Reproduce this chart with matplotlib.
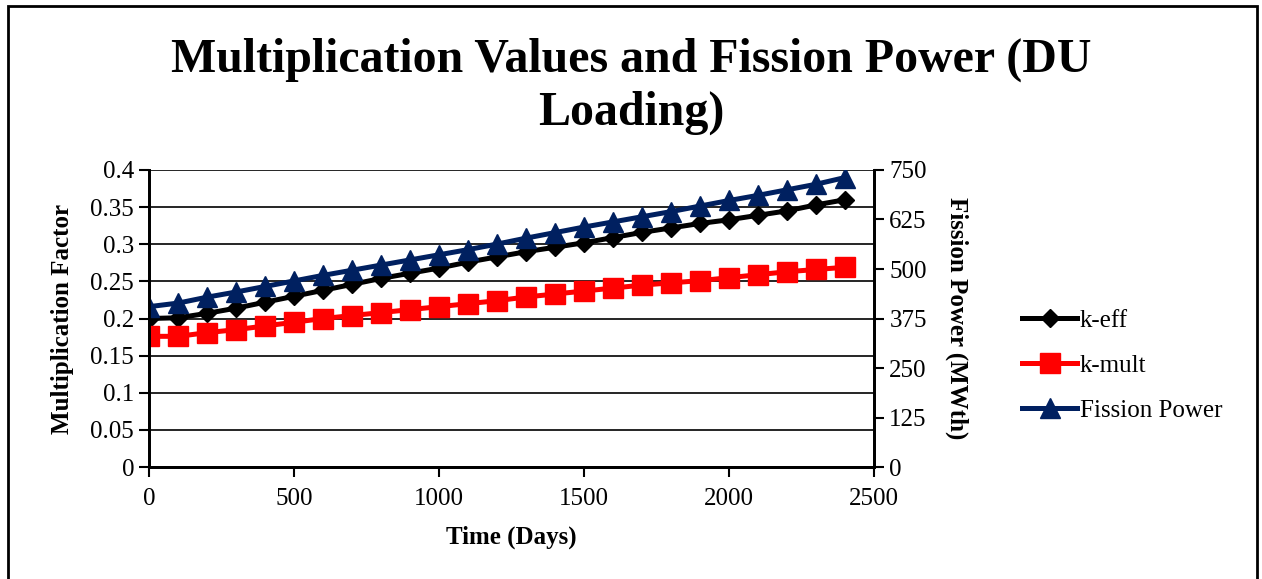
import matplotlib.pyplot as plt
from matplotlib.patches import Rectangle

plt.rcParams['font.family'] = ['Liberation Serif', 'DejaVu Serif']

# burnup steps (days) and the three tallies per step
days = [0, 100, 200, 300, 400, 500, 600, 700, 800, 900, 1000, 1100, 1200,
        1300, 1400, 1500, 1600, 1700, 1800, 1900, 2000, 2100, 2200, 2300, 2400]
k_eff = [0.200, 0.201, 0.207, 0.214, 0.222, 0.230, 0.238, 0.246, 0.254, 0.261,
         0.268, 0.276, 0.283, 0.290, 0.296, 0.302, 0.309, 0.316, 0.322, 0.328,
         0.333, 0.339, 0.345, 0.353, 0.360]
k_mult = [0.176, 0.176, 0.181, 0.185, 0.190, 0.195, 0.200, 0.204, 0.208, 0.212,
          0.216, 0.220, 0.224, 0.229, 0.233, 0.237, 0.241, 0.245, 0.248, 0.251,
          0.255, 0.259, 0.263, 0.266, 0.269]
fission_power = [405, 414, 429, 442, 456, 470, 484, 497, 510, 523, 536, 549, 563,
                 578, 592, 606, 619, 632, 645, 659, 673, 686, 700, 714, 731]

left_ticks = [0, 0.05, 0.1, 0.15, 0.2, 0.25, 0.3, 0.35, 0.4]
left_labels = ['0', '0.05', '0.1', '0.15', '0.2', '0.25', '0.3', '0.35', '0.4']
right_ticks = [0, 125, 250, 375, 500, 625, 750]
x_ticks = [0, 500, 1000, 1500, 2000, 2500]

navy = '#002060'
fs = 18

fig = plt.figure(figsize=(12.62, 5.79), dpi=100)
ax = fig.add_axes([0.1183, 0.1934, 0.5743, 0.5130])
ax2 = ax.twinx()

l1, = ax.plot(days, k_eff, color='black', lw=3.6, marker='D', ms=9, label='k-eff')
l2, = ax.plot(days, k_mult, color='red', lw=3.6, marker='s', ms=14, label='k-mult')
l3, = ax2.plot(days, fission_power, color=navy, lw=3.6, marker='^', ms=15,
               label='Fission Power')

ax.set_xlim(0, 2500)
ax.set_ylim(0, 0.4)
ax2.set_ylim(0, 750)
ax.set_xticks(x_ticks)
ax.set_xticklabels([str(t) for t in x_ticks], fontsize=fs)
ax.set_yticks(left_ticks)
ax.set_yticklabels(left_labels, fontsize=fs)
ax2.set_yticks(right_ticks)
ax2.set_yticklabels([str(t) for t in right_ticks], fontsize=fs)

ax.grid(axis='y', color='black', lw=1.2)
ax.set_axisbelow(True)
for a in (ax, ax2):
    a.spines['top'].set_visible(False)
    a.spines['left'].set_linewidth(2)
    a.spines['right'].set_linewidth(2)
    a.spines['bottom'].set_linewidth(2)
ax.tick_params(axis='y', direction='out', length=7, width=1.5, pad=4)
ax.tick_params(axis='x', direction='out', length=7, width=1.5, pad=8)
ax2.tick_params(axis='y', direction='out', length=7, width=1.5, pad=4)

ax.set_xlabel('Time (Days)', fontsize=fs, fontweight='bold', labelpad=11)
ax.set_ylabel('Multiplication Factor', fontsize=fs, fontweight='bold', labelpad=12)
ax2.set_ylabel('Fission Power (MWth)', fontsize=fs, fontweight='bold',
               rotation=270, labelpad=30)

fig.text(0.5, 0.935, 'Multiplication Values and Fission Power (DU\nLoading)',
         ha='center', va='top', fontsize=34.5, fontweight='bold', linespacing=1.25)

fig.legend(handles=[l1, l2, l3], loc='center left', bbox_to_anchor=(0.802, 0.369),
           frameon=False, fontsize=fs, handlelength=2.2, handletextpad=0.1,
           labelspacing=0.9, borderaxespad=0)

# chart frame
fig.add_artist(Rectangle((8 / 1262, -0.02), 1249 / 1262, 1.02 - 6 / 579,
                         transform=fig.transFigure, fill=False, lw=2, ec='black'))

fig.savefig('out.png', dpi=100)
